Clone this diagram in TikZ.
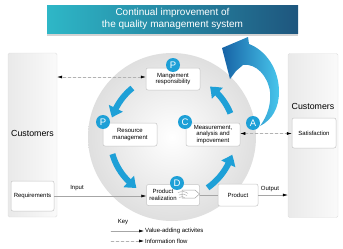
\documentclass[tikz,border=0pt]{standalone}
\usepackage{fontspec}
\setmainfont{Liberation Sans}
\usetikzlibrary{arrows.meta,bending,positioning,shapes,calc,shadows}
\definecolor{qmsBlue}{RGB}{30,160,215}
\definecolor{qmsTeal}{RGB}{46,183,199}
\definecolor{qmsNavy}{RGB}{30,86,126}
\definecolor{qmsDeep}{RGB}{22,98,165}
\definecolor{qmsSky}{RGB}{72,198,236}

\begin{document}
\begin{tikzpicture}[x=1pt, y=-1pt, line cap=round, line join=round,
    procbox/.style={draw=gray!45, fill=white, rounded corners=2pt, line width=0.5pt, align=center,
        font=\fontsize{6}{6.8}\selectfont, inner sep=1pt},
    badge/.style={circle, fill=qmsBlue, text=white, minimum size=14pt, inner sep=0pt,
        font=\fontsize{9.5}{10}\selectfont},
    pillar/.style={draw=gray!25, left color=gray!17, right color=gray!4, rounded corners=1.5pt,
        minimum width=49pt, minimum height=164pt, inner sep=0pt},
    cycarrow/.style={qmsBlue, line width=6pt, line cap=butt, -{Triangle[length=10pt,width=15pt,bend]}},
    flow/.style={gray!70, line width=0.5pt, -{Latex[length=5pt,width=3pt,color=black]}},
    info/.style={gray!60, line width=0.5pt, dash pattern=on 3pt off 2pt,
        {Latex[length=5pt,width=3pt,color=black]}-{Latex[length=5pt,width=3pt,color=black]}},
    infokey/.style={gray!60, line width=0.5pt, dash pattern=on 3pt off 2pt,
        -{Latex[length=5pt,width=3pt,color=black]}},
    small/.style={font=\fontsize{6}{7}\selectfont, inner sep=1pt}]
    \useasboundingbox (0,0) rectangle (343,249);
    \shade[inner color=white, outer color=gray!25] (172,137) circle (84);
    \coordinate (ctr) at (172,137);
    \draw[cycarrow] (ctr) ++(-129:63) arc[start angle=-129, end angle=-162, radius=63];
    \draw[cycarrow] (ctr) ++(-196:62) arc[start angle=-196, end angle=-235, radius=62];
    \draw[cycarrow] (ctr) ++(-305:62) arc[start angle=-305, end angle=-342, radius=65];
    \draw[cycarrow] (ctr) ++(-22:63) arc[start angle=-22, end angle=-53, radius=63];
    \node[pillar] (pillarL) at (32.5,135) {};
    \node[pillar, minimum width=50pt] (pillarR) at (313,135.5) {};
    \node[font=\fontsize{8.8}{9}\selectfont] (custL) at (32.5,133) {Customers};
    \node[font=\fontsize{8.8}{9}\selectfont] (custR) at (313,106) {Customers};
    \node[procbox, minimum width=43pt, minimum height=30pt] (req) at (32.5,196) {Requirements};
    \node[procbox, minimum width=44pt, minimum height=30pt] (sat) at (314,133) {Satisfaction};
    \node[procbox, minimum width=54pt, minimum height=22pt] (mgmt) at (173,79) {Mangement\\responsibility};
    \node[procbox, minimum width=54pt, minimum height=23pt] (resource) at (130,134.5) {Resource\\management};
    \node[procbox, minimum width=54pt, minimum height=23pt] (measure) at (213,134.5) {Measurement,\\analysis and\\impovement};
    \node[procbox, minimum width=53pt, minimum height=21pt] (realize) at (173,195) {};
    \node[small, align=center] (realizetext) at (163,195) {Product\\realization};
    \node[procbox, minimum width=40pt, minimum height=22pt] (product) at (238,195) {Product};
    \draw[gray!70, line width=0.5pt] (182,190) -- (195,190) -- (199.5,194) -- (195,198) -- (182,198) -- cycle;
    \draw[gray!70, line width=0.4pt] (178,192.5) .. controls (182,191) and (186,191.5) .. (188,193.5);
    \draw[gray!70, line width=0.4pt] (179,195) .. controls (182,193.5) and (185,194) .. (187,195.5);
    \draw[gray!70, line width=0.4pt] (179,197.5) .. controls (181,196) and (184,196.5) .. (185,198);
    \draw[flow] (req.east) -- (req.east -| realize.west);
    \draw[gray!70, line width=0.5pt] (realize) -- (product);
    \draw[flow] (product) -- (product -| pillarR.west);
    \node[small] (inlabel) at (77,188) {Input};
    \node[small] (outlabel) at (270,189) {Output};
    \draw[info] ($(mgmt.west)+(0,-2)$) -- ($(mgmt.west -| pillarL.east)+(0,-2)$);
    \draw[info] ($(measure.east)+(0,-1)$) -- ($(measure.east -| sat.west)+(0,-1)$);
    \shade[left color=qmsDeep, right color=qmsSky] (222,48) -- (248,37) -- (249,44)
        .. controls (265,50) and (279,68) .. (279,92)
        .. controls (279,108) and (272,120) .. (260,126)
        .. controls (268,115) and (271,104) .. (270,92)
        .. controls (268,76) and (256,63) .. (243,65) -- (236,71) -- (230,79) -- cycle;
    \node[minimum width=251pt, minimum height=28pt, left color=qmsTeal, right color=qmsNavy,
        text=white, align=center, font=\fontsize{10}{11.5}\selectfont,
        drop shadow={opacity=0.35, shadow xshift=0pt, shadow yshift=-2.5pt}] (banner) at (172.5,19)
        {Continual improvement of\\the quality management system};
    \node[badge] (badgeP1) at (173,65) {P};
    \node[badge] (badgeP2) at (103,122) {P};
    \node[badge] (badgeC) at (185,122) {C};
    \node[badge] (badgeA) at (253,123) {A};
    \node[badge] (badgeD) at (177,183) {D};
    \node[small] (keyhead) at (123,222) {Key};
    \coordinate (va1) at (111,231);
    \coordinate (va2) at (144,231);
    \coordinate (if1) at (111,241);
    \coordinate (if2) at (144,241);
    \draw[flow] (va1) -- (va2);
    \draw[infokey] (if1) -- (if2);
    \node[small, anchor=west] (valabel) at (va2) {Value-adding activites};
    \node[small, anchor=west] (iflabel) at (if2) {Information flow};
\end{tikzpicture}
\end{document}
